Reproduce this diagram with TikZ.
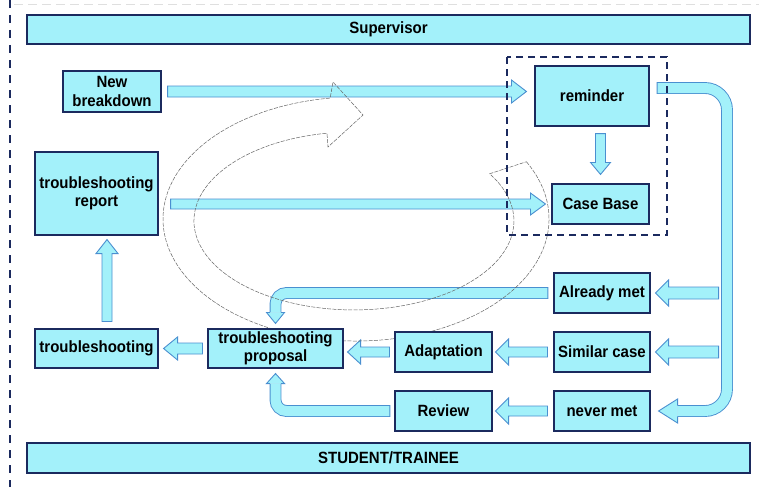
\documentclass[tikz,border=0pt]{standalone}
\usepackage{fontspec}
\setmainfont{Liberation Sans}[FakeStretch=0.92]
\usetikzlibrary{calc}
\definecolor{acyan}{HTML}{A3F1FA}
\definecolor{navy}{HTML}{1B2A5E}
\definecolor{ablue}{HTML}{4A8FD0}
\definecolor{loopgray}{HTML}{666666}
\pgfdeclarelayer{back}\pgfdeclarelayer{bg}\pgfdeclarelayer{mid}\pgfsetlayers{back,bg,mid,main}
\tikzset{
 box/.style={draw=navy, fill=acyan, line width=1.1pt, align=center, inner sep=1pt, font=\fontsize{16.3}{18.5}\selectfont\bfseries},
 barrow/.style={draw=ablue, fill=acyan, line width=0.9pt, line join=miter},
 shaftout/.style={draw=ablue, line width=11.8pt},
 shaftin/.style={draw=acyan, line width=10pt},
 loopline/.style={draw=loopgray, line width=0.5pt, dash pattern=on 4pt off 1.3pt},
 dbox/.style={draw=navy, line width=2.6pt, dash pattern=on 7pt off 5pt},
}
% #1 from, #2 to, #3 shaft half width, #4 head half width, #5 head length
\newcommand\blockarrow[5]{%
 \draw[barrow] let \p1=(#1), \p2=(#2),
   \n1={veclen((\x2)-(\x1),(\y2)-(\y1))},
   \n2={atan2((\y2)-(\y1),(\x2)-(\x1))} in
   {[shift={(\p1)}, rotate=\n2]
   (0pt,#3pt) -- ({\n1-#5pt},#3pt) -- ({\n1-#5pt},#4pt) -- (\n1,0pt)
   -- ({\n1-#5pt},-#4pt) -- ({\n1-#5pt},-#3pt) -- (0pt,-#3pt) -- cycle};}
\begin{document}
\begin{tikzpicture}[x=1pt,y=1pt]
\useasboundingbox (0,0) rectangle (759,-487);
\begin{pgfonlayer}{back}
\fill[white] (0,0) rectangle (759,-487);
\draw[dash pattern=on 9pt off 5pt, line width=1pt, gray!25] (14,-5) -- (759,-5);
\draw[dash pattern=on 8pt off 7pt, line width=2pt, navy] (10,0) -- (10,-487);
\end{pgfonlayer}

% bars
\node[box, minimum width=723, minimum height=29] (sup) at (388.5,-29.5) {Supervisor};
\node[box, minimum width=723, minimum height=30] (stu) at (388.5,-458) {STUDENT/TRAINEE};
% boxes
\node[box, minimum width=98, minimum height=41] (nb) at (112,-91.5) {New\\breakdown};
\node[box, minimum width=123, minimum height=83] (rep) at (96.5,-193.5) {troubleshooting\\report};
\node[box, minimum width=123, minimum height=39] (ts) at (96.5,-348.5) {troubleshooting};
\node[box, minimum width=135, minimum height=39] (prop) at (275.5,-348.5) {troubleshooting\\proposal};
\node[box, minimum width=97, minimum height=40] (adapt) at (443.5,-352) {Adaptation};
\node[box, minimum width=96, minimum height=40] (sim) at (602,-352) {Similar case};
\node[box, minimum width=96, minimum height=40] (am) at (602,-293) {Already met};
\node[box, minimum width=96, minimum height=40] (nm) at (602,-411) {never met};
\node[box, minimum width=97, minimum height=40] (rev) at (443.5,-411) {Review};
\node[box, minimum width=114, minimum height=60] (rem) at (592,-96) {reminder};
\node[box, minimum width=97, minimum height=40] (cb) at (600.5,-204) {Case Base};
\draw[dbox] (507,-57) rectangle (667,-235);

\begin{pgfonlayer}{bg}
 \blockarrow{[xshift=6pt]nb.east}{[xshift=-8pt,yshift=4.5pt]rem.west}{5.5}{11.5}{15}
 \blockarrow{$(rep.east |- cb.west)+(12pt,0)$}{[xshift=-6pt]cb.west}{5}{11}{15}
 \blockarrow{$(rem.south -| cb.north)+(0,-7pt)$}{[yshift=9pt]cb.north}{5}{10}{12}
 \blockarrow{[xshift=68pt]am.east}{[xshift=5pt]am.east}{6}{13}{13}
 \blockarrow{[xshift=68pt]sim.east}{[xshift=5pt]sim.east}{6}{13}{13}
 \blockarrow{[xshift=-6pt]sim.west}{[xshift=3pt]adapt.east}{5}{13}{13}
 \blockarrow{[xshift=-6pt]nm.west}{[xshift=3pt]rev.east}{5}{13}{13}
 \blockarrow{[xshift=-5pt]adapt.west}{$(prop.east |- adapt.west)+(4pt,0)$}{5}{12}{13}
 \blockarrow{[xshift=-5pt]prop.west}{[xshift=5pt]ts.east}{5.5}{11.5}{14}
 \blockarrow{[xshift=10.5pt,yshift=7pt]ts.north}{[xshift=10.5pt,yshift=-4pt]rep.south}{5}{11}{14}
 % Already met -> proposal
 \coordinate (a1) at ([xshift=-6pt]am.west);
 \coordinate (a1h) at ([yshift=16pt]prop.north);
 \coordinate (a1t) at ([yshift=5pt]prop.north);
 \draw[shaftout, rounded corners=11pt, shorten <=-0.9pt] (a1) -- (a1 -| prop.north) -- (a1h);
 \draw[shaftin, rounded corners=11pt] (a1) -- (a1 -| prop.north) -- (a1h);
 \filldraw[barrow] ($(a1h)+(5.45pt,0)$) -- ($(a1h)+(9pt,0)$) -- (a1t) -- ($(a1h)+(-9pt,0)$) -- ($(a1h)+(-5.45pt,0)$);
 % Review -> proposal
 \coordinate (r2) at ([xshift=-5pt]rev.west);
 \coordinate (r2h) at ([yshift=-15pt]prop.south);
 \coordinate (r2t) at ([yshift=-5pt]prop.south);
 \draw[shaftout, rounded corners=11pt, shorten <=-0.9pt] (r2) -- (r2 -| prop.south) -- (r2h);
 \draw[shaftin, rounded corners=11pt] (r2) -- (r2 -| prop.south) -- (r2h);
 \filldraw[barrow] ($(r2h)+(5.45pt,0)$) -- ($(r2h)+(9pt,0)$) -- (r2t) -- ($(r2h)+(-9pt,0)$) -- ($(r2h)+(-5.45pt,0)$);
 % reminder -> never met
 \coordinate (b1) at ([xshift=8pt,yshift=8pt]rem.east);
 \coordinate (bx) at (727,0);
 \coordinate (b1t) at ([xshift=8pt]nm.east);
 \coordinate (b1h) at ([xshift=27pt]nm.east);
 \draw[shaftout, rounded corners=22pt, shorten <=-0.9pt] (b1) -- (b1 -| bx) -- (b1t -| bx) -- (b1h);
 \draw[shaftin, rounded corners=22pt] (b1) -- (b1 -| bx) -- (b1t -| bx) -- (b1h);
 \filldraw[barrow] ($(b1h)+(0,5.45pt)$) -- ($(b1h)+(0,12pt)$) -- (b1t) -- ($(b1h)+(0,-12pt)$) -- ($(b1h)+(0,-5.45pt)$);
\end{pgfonlayer}

\begin{pgfonlayer}{mid}
 \draw[loopline] (356,-219) ++(28:193 and 122)
   arc[start angle=28, end angle=-262.3, x radius=193, y radius=122]
   -- (333,-82) -- (363,-115) -- (328,-147) -- (327,-133.2)
   arc[start angle=99.7, end angle=392, x radius=160, y radius=89] -- cycle;
\end{pgfonlayer}
\end{tikzpicture}
\end{document}
